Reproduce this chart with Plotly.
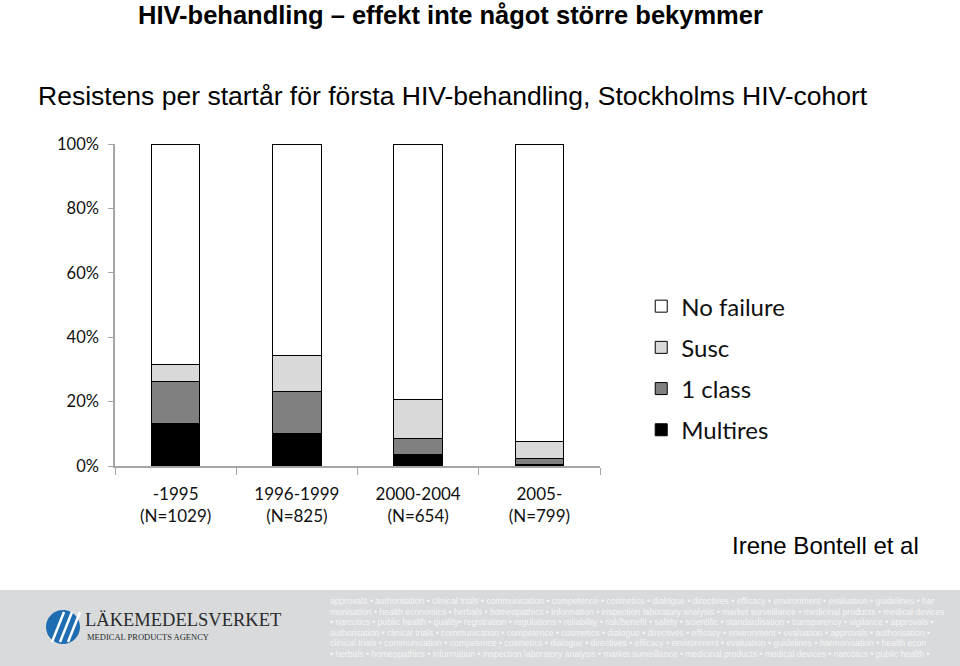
import plotly.graph_objects as go

categories = ["-1995<br>(N=1029)", "1996-1999<br>(N=825)", "2000-2004<br>(N=654)", "2005-<br>(N=799)"]
multires = [13.2, 10.0, 3.6, 0.5]
one_class = [13.1, 13.2, 5.0, 1.8]
susc = [5.3, 11.0, 12.1, 5.2]
no_failure = [68.4, 65.8, 79.3, 92.5]
y_ticks = [0, 20, 40, 60, 80, 100]
y_tick_labels = ["0%", "20%", "40%", "60%", "80%", "100%"]

series = [
    ("Multires", multires, "#000000", 4),
    ("1 class", one_class, "#808080", 3),
    ("Susc", susc, "#d9d9d9", 2),
    ("No failure", no_failure, "#ffffff", 1),
]

fig = go.Figure()
for name, vals, col, rank in series:
    fig.add_trace(go.Bar(
        x=categories, y=vals, name=name, legendgroup=name, legendrank=rank,
        marker=dict(color=col, line=dict(color="#000000", width=1)),
    ))

chart_font = "Lato, Open Sans, sans-serif"
fig.update_layout(
    barmode="stack",
    bargap=0.6,
    width=960, height=666,
    margin=dict(l=115, r=360, t=144, b=200),
    plot_bgcolor="white", paper_bgcolor="white",
    showlegend=True,
    legend=dict(
        x=1.085, y=0.565, xanchor="left", yanchor="top",
        traceorder="grouped", tracegroupgap=7,
        font=dict(family=chart_font, size=24, color="#111111"),
        bgcolor="rgba(0,0,0,0)",
    ),
    xaxis=dict(
        showline=True, linecolor="#a6a6a6", linewidth=1.5,
        ticks="outside", tickson="boundaries", ticklen=7, tickcolor="#a6a6a6",
        tickfont=dict(family=chart_font, size=17, color="#111111"),
        ticklabelstandoff=12,
    ),
    yaxis=dict(
        range=[0, 100], tickvals=y_ticks, ticktext=y_tick_labels,
        showline=True, linecolor="#a6a6a6", linewidth=1.5,
        ticks="outside", ticklen=5, tickcolor="#a6a6a6",
        showgrid=False, zeroline=False, ticklabelstandoff=6,
        tickfont=dict(family=chart_font, size=16.5, color="#111111"),
    ),
)

def py(p):
    return (466 - p) / 322

def px(p):
    return (p - 115) / 485

# Title texts
fig.add_annotation(xref="paper", yref="paper", x=px(136), y=py(15),
                   xanchor="left", yanchor="middle", showarrow=False,
                   text="<b>HIV-behandling – effekt inte något större bekymmer</b>",
                   font=dict(family="Liberation Sans, Arial, sans-serif", size=25.5, color="#000000"))
fig.add_annotation(xref="paper", yref="paper", x=px(36), y=py(96),
                   xanchor="left", yanchor="middle", showarrow=False,
                   text="Resistens per startår för första HIV-behandling, Stockholms HIV-cohort",
                   font=dict(family="Liberation Sans, Arial, sans-serif", size=26.5, color="#000000"))
fig.add_annotation(xref="paper", yref="paper", x=px(730), y=py(545),
                   xanchor="left", yanchor="middle", showarrow=False,
                   text="Irene Bontell et al",
                   font=dict(family="Liberation Sans, Arial, sans-serif", size=24, color="#000000"))

# Footer band
fig.add_shape(type="rect", xref="paper", yref="paper", x0=px(0), x1=px(960), y0=py(590), y1=py(666),
              fillcolor="#d8dadc", line=dict(width=0), layer="below")
# logo circle
fig.add_shape(type="circle", xref="paper", yref="paper", x0=px(46), x1=px(80), y0=py(610), y1=py(644),
              fillcolor="#1e6db3", line=dict(width=0))
for dx in [0, 8, 16]:
    fig.add_shape(type="line", xref="paper", yref="paper",
                  x0=px(52 + dx), y0=py(642), x1=px(64 + dx), y1=py(612),
                  line=dict(color="white", width=2.5))
fig.add_annotation(xref="paper", yref="paper", x=px(83), y=py(620), xanchor="left", yanchor="middle",
                   showarrow=False, text="LÄKEMEDELSVERKET",
                   font=dict(family="Liberation Serif, DejaVu Serif, serif", size=18.5, color="#2a2a2a"))
fig.add_annotation(xref="paper", yref="paper", x=px(85), y=py(637), xanchor="left", yanchor="middle",
                   showarrow=False, text="MEDICAL PRODUCTS AGENCY",
                   font=dict(family="Liberation Serif, DejaVu Serif, serif", size=8.5, color="#2a2a2a"))

footer_lines = [
    "approvals • authorisation • clinical trials • communication • competence • cosmetics • dialogue • directives • efficacy • environment • evaluation • guidelines • har",
    "monisation • health economics • herbals • homeopathics • information • inspection laboratory analysis • market surveillance • medicinal products • medical devices",
    "• narcotics • public health • quality• registration • regulations • reliability • risk/benefit • safety • scientific • standardisation • transparency • vigilance • approvals •",
    "authorisation • clinical trials • communication • competence • cosmetics • dialogue • directives • efficacy • environment • evaluation • approvals • authorisation •",
    "clinical trials • communication • competence • cosmetics • dialogue • directives • efficacy • environment • evaluation • guidelines • harmonisation • health econ",
    "• herbals • homeopathics • information • inspection laboratory analysis • market surveillance • medicinal products • medical devices • narcotics • public health •",
]
for i, line in enumerate(footer_lines):
    fig.add_annotation(xref="paper", yref="paper", x=px(328), y=py(601 + i * 10.6), xanchor="left", yanchor="middle",
                       showarrow=False, text=line,
                       font=dict(family="Liberation Sans Narrow, Liberation Sans, sans-serif", size=8.6, color="#f4f5f6"))

fig.write_html("out.html")
